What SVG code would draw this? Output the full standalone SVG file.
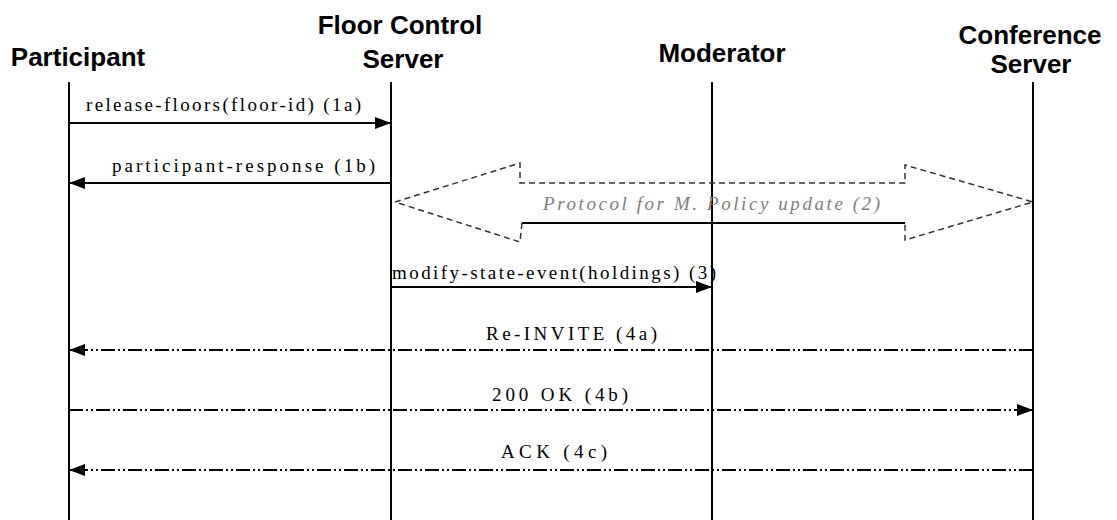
<svg xmlns="http://www.w3.org/2000/svg" width="1117" height="520" viewBox="0 0 1117 520">
<style>
.hdr{font-family:"Liberation Sans",Arial,sans-serif;font-weight:bold;font-size:26px;fill:#000;text-anchor:middle}
.msg{font-family:"Liberation Serif","Times New Roman",serif;font-size:19px;fill:#000}
.life{stroke:#000;stroke-width:2;fill:none}
.solid{stroke:#000;stroke-width:2;fill:none}
.dd{stroke:#000;stroke-width:2;fill:none;stroke-dasharray:14 3 2 3 2 3}
.fat{stroke:#333;stroke-width:1.5;fill:none;stroke-dasharray:6 4}
.proto{font-family:"Liberation Serif","Times New Roman",serif;font-style:italic;font-size:19px;fill:#808080}
</style>
<defs>
<marker id="ah" viewBox="0 0 16 12" refX="16" refY="6" markerWidth="16" markerHeight="12" markerUnits="userSpaceOnUse" orient="auto">
<path d="M0,0 L16,6 L0,12 Z" fill="#000"/>
</marker>
</defs>
<rect width="1117" height="520" fill="#fff"/>
<g id="participant">
<text class="hdr" x="78" y="66">Participant</text>
<line class="life" x1="69" y1="82" x2="69" y2="520"/>
</g>
<g id="floor-control-server">
<text class="hdr" x="400" y="34">Floor Control</text>
<text class="hdr" x="403" y="68">Server</text>
<line class="life" x1="391" y1="82" x2="391" y2="520"/>
</g>
<g id="moderator">
<text class="hdr" x="722" y="62">Moderator</text>
<line class="life" x1="712" y1="82" x2="712" y2="520"/>
</g>
<g id="conference-server">
<text class="hdr" x="1030" y="44">Conference</text>
<text class="hdr" x="1031" y="73">Server</text>
<line class="life" x1="1033" y1="82" x2="1033" y2="520"/>
</g>
<g id="connectors">
<line class="solid" x1="69" y1="123" x2="391" y2="123" marker-end="url(#ah)"/>
<line class="solid" x1="391" y1="183" x2="69" y2="183" marker-end="url(#ah)"/>
<path class="fat" d="M395,202 L520,163 L520,183 L905,183 L905,165 L1033,202 L905,240 L905,223"/>
<path class="fat" d="M522,223 L520,242 L395,202"/>
<line x1="522" y1="223" x2="905" y2="223" stroke="#000" stroke-width="2"/>
<line class="solid" x1="391" y1="287" x2="712" y2="287" marker-end="url(#ah)"/>
<line class="dd" x1="1033" y1="350" x2="69" y2="350" marker-end="url(#ah)"/>
<line class="dd" x1="69" y1="410" x2="1033" y2="410" marker-end="url(#ah)"/>
<line class="dd" x1="1033" y1="470" x2="69" y2="470" marker-end="url(#ah)"/>
</g>
<g id="labels">
<text class="msg" x="86" y="111" textLength="275" lengthAdjust="spacing">release-floors(floor-id) (1a)</text>
<text class="msg" x="112" y="172" textLength="263" lengthAdjust="spacing">participant-response (1b)</text>
<text class="proto" x="543" y="210" textLength="337" lengthAdjust="spacing">Protocol for M. Policy update (2)</text>
<text class="msg" x="392" y="279" textLength="324" lengthAdjust="spacing">modify-state-event(holdings) (3)</text>
<text class="msg" x="486" y="340" textLength="171" lengthAdjust="spacing">Re-INVITE (4a)</text>
<text class="msg" x="492" y="401" textLength="136" lengthAdjust="spacing">200 OK (4b)</text>
<text class="msg" x="501" y="458" textLength="106" lengthAdjust="spacing">ACK (4c)</text>
</g>
</svg>
